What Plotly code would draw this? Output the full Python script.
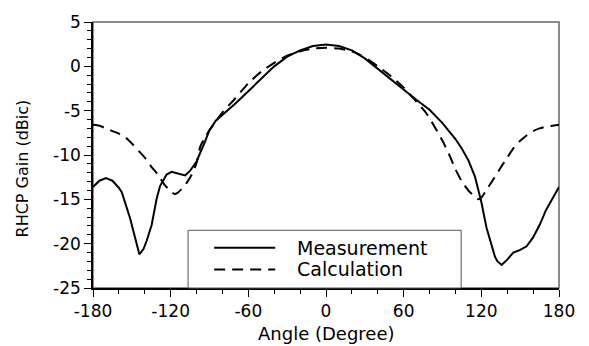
import plotly.graph_objects as go

# Measured RHCP gain pattern
meas_angle = [-180, -175, -170, -165, -160, -157.8, -151.4, -146, -144.2, -141, -138.6, -134.7,
              -130.8, -128.2, -123.1, -119.3, -114.1, -108.9, -105.1, -99.9, -93.5, -90,
              -85, -80, -70, -60, -50, -40, -30, -20, -10, 0, 10, 20, 30, 40, 50, 60, 70,
              80, 90, 100, 105, 110, 115, 120, 124, 130.6, 132.5, 135.7, 140, 144.7, 150,
              155, 160, 165, 170, 175, 180]
meas_gain = [-13.6, -12.9, -12.6, -12.9, -13.7, -14.2, -17.1, -20.2, -21.2, -20.6, -19.7, -17.9,
             -14.9, -13.5, -12.2, -11.9, -12.1, -12.3, -11.8, -10.7, -8.5, -7.2,
             -6.1, -5.5, -4.2, -2.8, -1.4, 0.0, 1.1, 1.8, 2.3, 2.45, 2.3, 1.8, 0.9, -0.3, -1.5,
             -2.7, -3.8, -4.9, -6.4, -8.2, -9.3, -10.6, -12.4, -15.3, -18.2, -21.5, -22.0,
             -22.4, -21.8, -21.0, -20.7, -20.3, -19.3, -17.9, -16.2, -14.9, -13.6]

# Calculated RHCP gain pattern
calc_angle = [-180, -175, -170, -165, -160, -155, -150, -145, -140, -135, -130, -125, -120,
              -117, -115, -110, -107, -103, -100, -97, -93, -90, -85, -80, -70, -60, -50,
              -40, -30, -20, -10, 0, 10, 20, 30, 40, 50, 60, 65, 70, 78, 85, 90, 95, 100,
              105, 110, 115, 118, 120, 125, 130, 135, 140, 145, 150, 155, 160, 165, 170,
              175, 180]
calc_gain = [-6.6, -6.7, -7.0, -7.3, -7.6, -8.0, -8.7, -9.5, -10.3, -11.3, -12.2, -13.3, -14.1,
             -14.4, -14.3, -13.6, -13.0, -12.0, -10.9, -9.0, -7.9, -7.2, -6.2, -5.2, -3.6,
             -1.9, -0.6, 0.4, 1.2, 1.7, 2.0, 2.1, 2.0, 1.7, 1.0, 0.0, -1.1, -2.4, -3.2, -4.0,
             -5.4, -7.1, -8.4, -9.9, -11.6, -13.0, -14.0, -14.7, -15.0, -14.8, -13.7, -12.6,
             -11.4, -10.3, -9.2, -8.4, -7.8, -7.3, -7.0, -6.8, -6.7, -6.6]

x_ticks = [-180, -120, -60, 0, 60, 120, 180]
y_ticks = [-25, -20, -15, -10, -5, 0, 5]
series_names = ["Measurement", "Calculation"]

FONT = "DejaVu Sans"
DASH = "11px,7px"

fig = go.Figure()
fig.add_trace(go.Scatter(x=meas_angle, y=meas_gain, mode="lines", name=series_names[0],
                         line=dict(color="black", width=2), showlegend=False))
fig.add_trace(go.Scatter(x=calc_angle, y=calc_gain, mode="lines", name=series_names[1],
                         line=dict(color="black", width=2, dash=DASH, shape="spline",
                                   smoothing=0.6), showlegend=False))

axis_common = dict(
    showgrid=False, zeroline=False, showline=True, linecolor="black", linewidth=1.5,
    ticks="outside", ticklen=7, tickwidth=1.2, tickcolor="black",
    tickfont=dict(family=FONT, size=17, color="black"),
)
fig.update_xaxes(range=[-180, 180], tickvals=x_ticks, ticktext=[str(v) for v in x_ticks],
                 minor=dict(dtick=20, ticks="outside", ticklen=4, tickcolor="black",
                            tickwidth=1, showgrid=False),
                 **axis_common)
fig.update_yaxes(range=[-25, 5], tickvals=y_ticks, ticktext=[str(v) for v in y_ticks],
                 minor=dict(dtick=1, ticks="outside", ticklen=4, tickcolor="black",
                            tickwidth=1, showgrid=False),
                 **axis_common)

shapes = [
    # grey frame around the plotting area
    dict(type="rect", xref="paper", yref="paper", x0=0, x1=1, y0=0, y1=1,
         line=dict(color="#666666", width=1.5), layer="below"),
    # legend box
    dict(type="rect", xref="paper", yref="paper", x0=0.204, x1=0.790, y0=0, y1=0.217,
         line=dict(color="#555555", width=1), fillcolor="white", layer="above"),
    dict(type="line", xref="paper", yref="paper", x0=0.260, x1=0.391, y0=0.151, y1=0.151,
         line=dict(color="black", width=2)),
    dict(type="line", xref="paper", yref="paper", x0=0.260, x1=0.391, y0=0.070, y1=0.070,
         line=dict(color="black", width=2, dash=DASH)),
]

annotations = [
    dict(text=series_names[0], xref="paper", yref="paper", x=0.433, y=0.151,
         xanchor="left", yanchor="middle", showarrow=False,
         font=dict(family=FONT, size=19, color="black")),
    dict(text=series_names[1], xref="paper", yref="paper", x=0.433, y=0.070,
         xanchor="left", yanchor="middle", showarrow=False,
         font=dict(family=FONT, size=19, color="black")),
    dict(text="Angle (Degree)", xref="paper", yref="paper", x=0.5, y=-0.171,
         xanchor="center", yanchor="middle", showarrow=False,
         font=dict(family=FONT, size=18, color="black")),
    dict(text="RHCP Gain (dBic)", xref="paper", yref="paper", x=-0.152, y=0.45,
         xanchor="center", yanchor="middle", textangle=-90, showarrow=False,
         font=dict(family=FONT, size=16, color="black")),
]

fig.update_layout(
    width=589, height=346,
    margin=dict(l=93, r=30, t=16, b=58),
    paper_bgcolor="white", plot_bgcolor="white",
    shapes=shapes, annotations=annotations,
    showlegend=False,
)

fig.write_html("out.html")
